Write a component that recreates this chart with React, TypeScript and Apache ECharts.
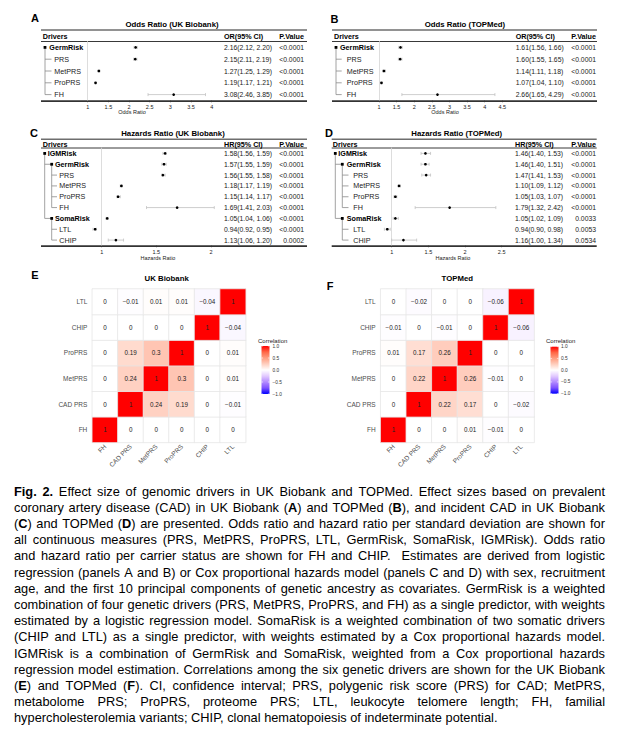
import React, { useEffect, useRef } from 'react';
import * as echarts from 'echarts';

const FONT = '"Liberation Sans", Arial, Helvetica, sans-serif';

// ---------------- Data ----------------
const driversAB = ['GermRisk', 'PRS', 'MetPRS', 'ProPRS', 'FH'];
const levelsAB = [0, 1, 1, 1, 1];

const orUKB = [2.16, 2.15, 1.27, 1.19, 3.08];
const orUKBLow = [2.12, 2.11, 1.25, 1.17, 2.46];
const orUKBHigh = [2.2, 2.19, 1.29, 1.21, 3.85];
const orUKBP = ['<0.0001', '<0.0001', '<0.0001', '<0.0001', '<0.0001'];
const ticksA = [1, 1.5, 2, 2.5, 3, 3.5, 4];

const orTOP = [1.61, 1.6, 1.14, 1.07, 2.66];
const orTOPLow = [1.56, 1.55, 1.11, 1.04, 1.65];
const orTOPHigh = [1.66, 1.65, 1.18, 1.1, 4.29];
const orTOPP = ['<0.0001', '<0.0001', '<0.0001', '<0.0001', '<0.0001'];
const ticksB = [1, 1.5, 2, 2.5, 3, 3.5, 4, 4.5];

const driversCD = ['IGMRisk', 'GermRisk', 'PRS', 'MetPRS', 'ProPRS', 'FH', 'SomaRisk', 'LTL', 'CHIP'];
const levelsCD = [0, 1, 2, 2, 2, 2, 1, 2, 2];

const hrUKB = [1.58, 1.57, 1.56, 1.18, 1.15, 1.69, 1.05, 0.94, 1.13];
const hrUKBLow = [1.56, 1.55, 1.55, 1.17, 1.14, 1.41, 1.04, 0.92, 1.06];
const hrUKBHigh = [1.59, 1.59, 1.58, 1.19, 1.17, 2.03, 1.06, 0.95, 1.2];
const hrUKBP = ['<0.0001', '<0.0001', '<0.0001', '<0.0001', '<0.0001', '<0.0001', '<0.0001', '<0.0001', '0.0002'];
const ticksC = [1, 1.5, 2];

const hrTOP = [1.46, 1.46, 1.47, 1.1, 1.05, 1.79, 1.05, 0.94, 1.16];
const hrTOPLow = [1.4, 1.4, 1.41, 1.09, 1.03, 1.32, 1.02, 0.9, 1.0];
const hrTOPHigh = [1.53, 1.51, 1.53, 1.12, 1.07, 2.42, 1.09, 0.98, 1.34];
const hrTOPP = ['<0.0001', '<0.0001', '<0.0001', '<0.0001', '<0.0001', '<0.0001', '0.0033', '0.0053', '0.0534'];
const ticksD = [1, 1.5, 2, 2.5];

const corrVars = ['FH', 'CAD PRS', 'MetPRS', 'ProPRS', 'CHIP', 'LTL'];
// rows: FH (bottom) ... LTL (top); columns: FH ... LTL
const corrUKB = [
  [1, 0, 0, 0, 0, 0],
  [0, 1, 0.24, 0.19, 0, -0.01],
  [0, 0.24, 1, 0.3, 0, 0.01],
  [0, 0.19, 0.3, 1, 0, 0.01],
  [0, 0, 0, 0, 1, -0.04],
  [0, -0.01, 0.01, 0.01, -0.04, 1],
];
const corrTOP = [
  [1, 0, 0, 0.01, -0.01, 0],
  [0, 1, 0.22, 0.17, 0, -0.02],
  [0, 0.22, 1, 0.26, -0.01, 0],
  [0.01, 0.17, 0.26, 1, 0, 0],
  [-0.01, 0, -0.01, 0, 1, -0.06],
  [0, -0.02, 0, 0, -0.06, 1],
];
const legendTicks = [1, 0.5, 0, -0.5, -1];
const corrColors = ['#0000FF', '#7E51FF', '#B38BFF', '#E2CAFF', '#FFFFFF', '#FFCFBF', '#FF9E81', '#FF6746', '#FF0000'];

const captionLines = [
  '**Fig. 2.** Effect size of genomic drivers in UK Biobank and TOPMed. Effect sizes based on prevalent',
  'coronary artery disease (CAD) in UK Biobank (**A**) and TOPMed (**B**), and incident CAD in UK Biobank',
  '(**C**) and TOPMed (**D**) are presented. Odds ratio and hazard ratio per standard deviation are shown for',
  'all continuous measures (PRS, MetPRS, ProPRS, LTL, GermRisk, SomaRisk, IGMRisk). Odds ratio',
  'and hazard ratio per carrier status are shown for FH and CHIP.  Estimates are derived from logistic',
  'regression (panels A and B) or Cox proportional hazards model (panels C and D) with sex, recruitment',
  'age, and the first 10 principal components of genetic ancestry as covariates. GermRisk is a weighted',
  'combination of four genetic drivers (PRS, MetPRS, ProPRS, and FH) as a single predictor, with weights',
  'estimated by a logistic regression model. SomaRisk is a weighted combination of two somatic drivers',
  '(CHIP and LTL) as a single predictor, with weights estimated by a Cox proportional hazards model.',
  'IGMRisk is a combination of GermRisk and SomaRisk, weighted from a Cox proportional hazards',
  'regression model estimation. Correlations among the six genetic drivers are shown for the UK Biobank',
  '(**E**) and TOPMed (**F**). CI, confidence interval; PRS, polygenic risk score (PRS) for CAD; MetPRS,',
  'metabolome PRS; ProPRS, proteome PRS; LTL, leukocyte telomere length; FH, familial',
  'hypercholesterolemia variants; CHIP, clonal hematopoiesis of indeterminate potential.',
];

// ---------------- Layout ----------------
const FOREST = [
  {
    letter: 'A', letterX: 35, letterY: 18, title: 'Odds Ratio (UK Biobank)', titleX: 172, titleY: 24,
    tableL: 41, tableR: 307, topY: 30, headY: 36, gridTop: 41.5, gridBot: 100.5,
    axisL: 87.7, axisR: 211.7, colX: 224, pR: 304, driversX: 42.7, colHead: 'OR(95% CI)',
    sq: [45], txtAgg: [49.3], tickEnd: 51.5, leafX: 54.3,
    axisName: 'Odds Ratio', axisNameX: 132, axisNameY: 112.3, labelMargin: 3,
  },
  {
    letter: 'B', letterX: 334.5, letterY: 19, title: 'Odds Ratio (TOPMed)', titleX: 465, titleY: 24,
    tableL: 332, tableR: 597, topY: 30, headY: 36, gridTop: 41.5, gridBot: 100.5,
    axisL: 379, axisR: 502.3, colX: 515.7, pR: 596, driversX: 334, colHead: 'OR(95% CI)',
    sq: [336], txtAgg: [340], tickEnd: 341.7, leafX: 346.7,
    axisName: 'Odds Ratio', axisNameX: 445, axisNameY: 112.3, labelMargin: 3,
  },
  {
    letter: 'C', letterX: 34, letterY: 133, title: 'Hazards Ratio (UK Biobank)', titleX: 173, titleY: 133.3,
    tableL: 41, tableR: 307, topY: 139.3, headY: 144, gridTop: 148, gridBot: 245.5,
    axisL: 101.7, axisR: 211, colX: 224, pR: 304, driversX: 42.7, colHead: 'HR(95% CI)',
    sq: [44.7, 51.7], txtAgg: [47.7, 55], tickEnd: 57, leafX: 59.3,
    axisName: 'Hazards Ratio', axisNameX: 158, axisNameY: 257.5, labelMargin: 3.5,
  },
  {
    letter: 'D', letterX: 329, letterY: 133, title: 'Hazards Ratio (TOPMed)', titleX: 456.7, titleY: 133.3,
    tableL: 331.7, tableR: 596.7, topY: 139.3, headY: 144, gridTop: 148, gridBot: 245.5,
    axisL: 391.7, axisR: 501.7, colX: 515, pR: 596, driversX: 332.7, colHead: 'HR(95% CI)',
    sq: [335.3, 342.3], txtAgg: [338.3, 346.7], tickEnd: 348.5, leafX: 353.3,
    axisName: 'Hazards Ratio', axisNameX: 453, axisNameY: 257.5, labelMargin: 3.5,
  },
];

const HEAT = [
  {
    letter: 'E', letterX: 35, letterY: 275, title: 'UK Biobank', titleX: 166.7, titleY: 278.3,
    left: 92.3, top: 289, size: 153.4, legTitleX: 258, legTitleY: 340.5, barX: 261.5, barY: 346, barW: 8, barH: 48, legLabelX: 272.5,
  },
  {
    letter: 'F', letterX: 330, letterY: 286, title: 'TOPMed', titleX: 457.3, titleY: 278.3,
    left: 380.7, top: 289, size: 153.4, legTitleX: 546, legTitleY: 341, barX: 550.5, barY: 346.7, barW: 8, barH: 47, legLabelX: 561,
  },
];

const CAP = { left: 14, right: 605, top: 491, lineH: 16.2, size: 12.8 };

// ---------------- Helpers ----------------
function txt(x: number, y: number, text: string, o: any = {}) {
  const align = o.align || 'left';
  const v = o.v || 'middle';
  return {
    type: 'text', x, y, silent: true,
    style: {
      text, fill: o.color || '#000', fontSize: o.size || 7, fontWeight: o.bold ? 'bold' : 'normal',
      fontFamily: FONT, align, verticalAlign: v, textAlign: align, textVerticalAlign: v,
    },
  };
}
function ln(x1: number, y1: number, x2: number, y2: number, color: string, w: number) {
  return { type: 'line', silent: true, shape: { x1, y1, x2, y2 }, style: { stroke: color, lineWidth: w } };
}
const f2 = (v: number) => v.toFixed(2);
const fmtCorr = (v: number) => (v === 0 ? '0' : String(v).replace('-', '\u2212'));
const fmtTick = (v: number) => (v === 0 ? '0.0' : v.toFixed(1).replace('-', '\u2212'));

function buildForest(idx: number, names: string[], levels: number[], est: number[], lo: number[], hi: number[], pv: string[], ticks: number[]) {
  const P: any = FOREST[idx];
  const n = names.length;
  const rowY = (i: number) => P.gridTop + ((i + 0.5) * (P.gridBot - P.gridTop)) / n;
  const g: any[] = [];
  g.push(txt(P.letterX, P.letterY, P.letter, { size: 11, bold: true, align: 'center' }));
  g.push(txt(P.titleX, P.titleY, P.title, { size: 7.8, bold: true, align: 'center' }));
  g.push(ln(P.tableL, P.topY, P.tableR, P.topY, '#6e6e6e', 1.6));
  g.push(ln(P.tableL, P.gridTop, P.tableR, P.gridTop, '#222', 0.9));
  g.push(ln(P.tableL, P.gridBot + 0.6, P.tableR, P.gridBot + 0.6, '#333', 1.6));
  g.push(txt(P.driversX, P.headY, 'Drivers', { size: 7.2, bold: true }));
  g.push(txt(P.colX, P.headY, P.colHead, { size: 7.2, bold: true }));
  g.push(txt(P.pR, P.headY, 'P.Value', { size: 7.2, bold: true, align: 'right' }));
  g.push(txt(P.axisNameX, P.axisNameY, P.axisName, { size: 5.5, align: 'center', color: '#222' }));
  for (let i = 0; i < n; i++) {
    const l = levels[i];
    const y = rowY(i);
    const hasKids = i + 1 < n && levels[i + 1] > l;
    if (l > 0) {
      const px = P.sq[l - 1];
      const ex = hasKids ? P.sq[l] : P.tickEnd;
      g.push(ln(px, y, ex, y, '#8a8a8a', 0.8));
    }
    if (hasKids) {
      let last = i;
      for (let j = i + 1; j < n && levels[j] > l; j++) if (levels[j] === l + 1) last = j;
      g.push(ln(P.sq[l], y, P.sq[l], rowY(last), '#8a8a8a', 0.8));
      g.push({ type: 'rect', silent: true, shape: { x: P.sq[l] - 1.4, y: y - 1.4, width: 2.8, height: 2.8 }, style: { fill: '#000' } });
      g.push(txt(P.txtAgg[l], y, names[i], { size: 7.2, bold: true }));
    } else {
      g.push(txt(P.leafX, y, names[i], { size: 7.2, color: '#1a1a1a' }));
    }
    g.push(txt(P.colX, y, `${f2(est[i])}(${f2(lo[i])}, ${f2(hi[i])})`, { size: 6.8, color: '#1a1a1a' }));
    g.push(txt(P.pR, y, pv[i], { size: 6.8, align: 'right', color: '#1a1a1a' }));
  }
  const grid = { left: P.axisL, top: P.gridTop, width: P.axisR - P.axisL, height: P.gridBot - P.gridTop };
  const xAxis = {
    type: 'value', gridIndex: idx, min: ticks[0], max: ticks[ticks.length - 1], interval: ticks[1] - ticks[0],
    axisLine: { show: false }, splitLine: { show: false },
    axisTick: { show: true, length: 1.8, lineStyle: { color: '#333', width: 0.6 } },
    axisLabel: { fontSize: 5.5, fontFamily: FONT, color: '#222', margin: P.labelMargin, formatter: (v: number) => String(v) },
  };
  const yAxis = {
    type: 'category', gridIndex: idx, data: names, inverse: true,
    axisLine: { show: true, lineStyle: { color: '#d4d4d4', width: 0.8 } },
    axisTick: { show: false }, axisLabel: { show: false }, splitLine: { show: false },
  };
  const series = {
    type: 'custom', xAxisIndex: idx, yAxisIndex: idx, clip: false, silent: true,
    data: est.map((e, i) => [e, lo[i], hi[i], i]),
    encode: { x: [0, 1, 2], y: 3 },
    renderItem: (_p: any, api: any) => {
      const r = api.value(3);
      const pe = api.coord([api.value(0), r]);
      const pl = api.coord([api.value(1), r]);
      const ph = api.coord([api.value(2), r]);
      const cap = 1.5;
      const st = { stroke: '#c2c2c2', lineWidth: 0.8 };
      return {
        type: 'group',
        children: [
          { type: 'line', shape: { x1: pl[0], y1: pl[1], x2: ph[0], y2: ph[1] }, style: st },
          { type: 'line', shape: { x1: pl[0], y1: pl[1] - cap, x2: pl[0], y2: pl[1] + cap }, style: st },
          { type: 'line', shape: { x1: ph[0], y1: ph[1] - cap, x2: ph[0], y2: ph[1] + cap }, style: st },
          { type: 'circle', shape: { cx: pe[0], cy: pe[1], r: 1.35 }, style: { fill: '#000' } },
        ],
      };
    },
  };
  return { grid, xAxis, yAxis, series, graphics: g };
}

function buildHeat(idx: number, gridIndex: number, matrix: number[][]) {
  const H: any = HEAT[idx];
  const g: any[] = [];
  g.push(txt(H.letterX, H.letterY, H.letter, { size: 11, bold: true, align: 'center' }));
  g.push(txt(H.titleX, H.titleY, H.title, { size: 7.8, bold: true, align: 'center' }));
  g.push(txt(H.legTitleX, H.legTitleY, 'Correlation', { size: 6, color: '#1a1a1a' }));
  const stops = corrColors.map((c, i) => ({ offset: 1 - i / (corrColors.length - 1), color: c }));
  stops.reverse();
  g.push({
    type: 'rect', silent: true, shape: { x: H.barX, y: H.barY, width: H.barW, height: H.barH },
    style: { fill: { type: 'linear', x: 0, y: 0, x2: 0, y2: 1, colorStops: stops } },
  });
  legendTicks.forEach((t) => {
    const y = H.barY + ((1 - t) / 2) * H.barH;
    g.push(ln(H.barX, y, H.barX + 1.6, y, '#fff', 0.6));
    g.push(ln(H.barX + H.barW - 1.6, y, H.barX + H.barW, y, '#fff', 0.6));
    g.push(txt(H.legLabelX, y, fmtTick(t), { size: 4.8, color: '#333' }));
  });
  const data: any[] = [];
  matrix.forEach((row, yi) => row.forEach((v, xi) => data.push([xi, yi, v])));
  const grid = { left: H.left, top: H.top, width: H.size, height: H.size };
  const xAxis = {
    type: 'category', gridIndex, data: corrVars,
    axisLine: { show: false }, axisTick: { show: false }, splitLine: { show: false },
    axisLabel: { interval: 0, rotate: 45, fontSize: 6.5, fontFamily: FONT, color: '#4d4d4d', margin: 3 },
  };
  const yAxis = {
    type: 'category', gridIndex, data: corrVars,
    axisLine: { show: false }, axisTick: { show: false }, splitLine: { show: false },
    axisLabel: { interval: 0, fontSize: 6.5, fontFamily: FONT, color: '#4d4d4d', margin: 5 },
  };
  const series = {
    type: 'heatmap', xAxisIndex: gridIndex, yAxisIndex: gridIndex, data, silent: true,
    itemStyle: { borderColor: '#e6e6e6', borderWidth: 0.8 },
    label: {
      show: true, fontSize: 6.3, fontFamily: FONT, color: '#222',
      formatter: (p: any) => fmtCorr(p.value[2]),
    },
  };
  return { grid, xAxis, yAxis, series, graphics: g };
}

function buildCaption() {
  const g: any[] = [];
  const canvas = document.createElement('canvas');
  const ctx = canvas.getContext('2d') as CanvasRenderingContext2D;
  const measure = (t: string, b: boolean) => {
    ctx.font = `${b ? 'bold ' : ''}${CAP.size}px ${FONT}`;
    return ctx.measureText(t).width;
  };
  captionLines.forEach((line, li) => {
    const parts = line.split('**');
    const chars: { ch: string; b: boolean }[] = [];
    parts.forEach((p, k) => {
      for (const ch of p) chars.push({ ch, b: k % 2 === 1 });
    });
    const words: { t: string; b: boolean }[][] = [];
    let w: { t: string; b: boolean }[] = [];
    for (const c of chars) {
      if (c.ch === ' ') {
        words.push(w);
        w = [];
      } else {
        const last = w[w.length - 1];
        if (last && last.b === c.b) last.t += c.ch;
        else w.push({ t: c.ch, b: c.b });
      }
    }
    words.push(w);
    const widths = words.map((ws) => ws.reduce((s, seg) => s + measure(seg.t, seg.b), 0));
    const total = widths.reduce((a, b) => a + b, 0);
    const isLast = li === captionLines.length - 1;
    const gap = isLast ? measure(' ', false) : (CAP.right - CAP.left - total) / (words.length - 1);
    const y = CAP.top + li * CAP.lineH;
    let x = CAP.left;
    words.forEach((ws, wi) => {
      if (ws.length) {
        const rich = ws.map((s) => `{${s.b ? 'b' : 'n'}|${s.t}}`).join('');
        g.push({
          type: 'text', x, y, silent: true,
          style: {
            text: rich, fill: '#000', fontSize: CAP.size, fontFamily: FONT,
            align: 'left', verticalAlign: 'middle', textAlign: 'left', textVerticalAlign: 'middle',
            rich: {
              n: { fontSize: CAP.size, fontFamily: FONT, fontWeight: 'normal', fill: '#000' },
              b: { fontSize: CAP.size, fontFamily: FONT, fontWeight: 'bold', fill: '#000' },
            },
          },
        });
      }
      x += widths[wi] + gap;
    });
  });
  return g;
}

export default function App() {
  const ref = useRef<HTMLDivElement>(null);
  useEffect(() => {
    if (!ref.current) return;
    const chart = echarts.init(ref.current, undefined, { renderer: 'svg' });
    const parts = [
      buildForest(0, driversAB, levelsAB, orUKB, orUKBLow, orUKBHigh, orUKBP, ticksA),
      buildForest(1, driversAB, levelsAB, orTOP, orTOPLow, orTOPHigh, orTOPP, ticksB),
      buildForest(2, driversCD, levelsCD, hrUKB, hrUKBLow, hrUKBHigh, hrUKBP, ticksC),
      buildForest(3, driversCD, levelsCD, hrTOP, hrTOPLow, hrTOPHigh, hrTOPP, ticksD),
      buildHeat(0, 4, corrUKB),
      buildHeat(1, 5, corrTOP),
    ];
    const graphics = parts.flatMap((p) => p.graphics).concat(buildCaption());
    chart.setOption({
      animation: false,
      backgroundColor: '#ffffff',
      textStyle: { fontFamily: FONT },
      grid: parts.map((p) => p.grid),
      xAxis: parts.map((p) => p.xAxis),
      yAxis: parts.map((p) => p.yAxis),
      visualMap: {
        show: false, type: 'continuous', min: -1, max: 1, dimension: 2, seriesIndex: [4, 5],
        inRange: { color: corrColors },
      },
      series: parts.map((p) => p.series),
      graphic: { elements: graphics },
    });
    return () => chart.dispose();
  }, []);
  return <div ref={ref} style={{ position: 'absolute', left: 0, top: 0, width: 630, height: 744, background: '#fff' }} />;
}
